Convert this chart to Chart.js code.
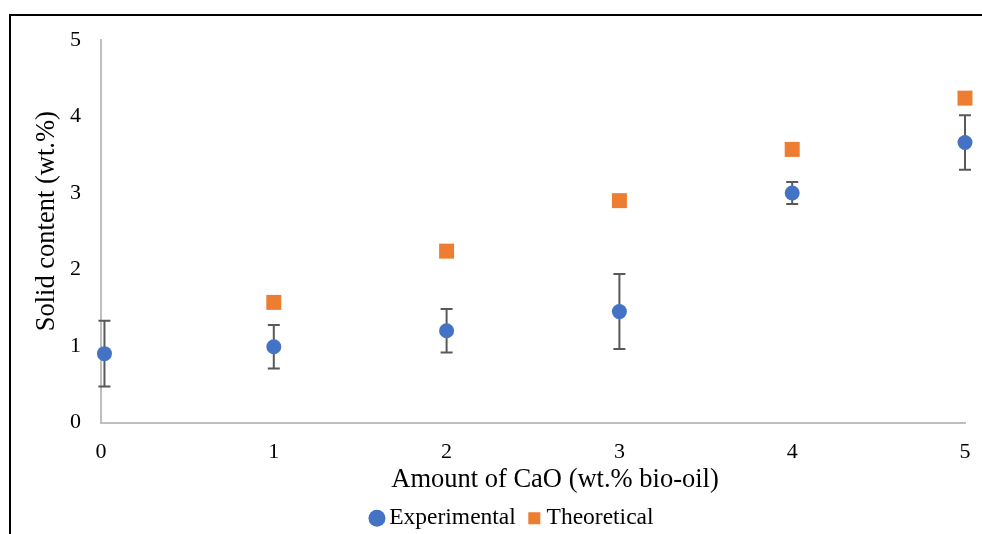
<!DOCTYPE html>
<html>
<head>
<meta charset="utf-8">
<script src="https://cdn.jsdelivr.net/npm/chart.js@4.4.0/dist/chart.umd.min.js"></script>
<style>
  body { margin: 0; background: #fff; }
  #wrap { position: relative; width: 982px; height: 534px; }
  #frame { position: absolute; left: 9px; top: 14px; width: 1000px; height: 600px;
           border-left: 2px solid #000; border-top: 2px solid #000; pointer-events: none; }
</style>
</head>
<body>
<div id="wrap">
  <canvas id="myChart" width="982" height="534"></canvas>
  <div id="frame"></div>
</div>
<script>
// datos
let xExp = [0.02, 1, 2, 3, 4, 5];
let experimental = [0.90, 0.99, 1.20, 1.45, 3.00, 3.66];
let errExp = [0.43, 0.285, 0.285, 0.49, 0.145, 0.355];
let xTeo = [1, 2, 3, 4, 5];
let theoretical = [1.57, 2.24, 2.90, 3.57, 4.24];
let xTicks = [0, 1, 2, 3, 4, 5];
let yTicks = [0, 1, 2, 3, 4, 5];
let xTitle = 'Amount of CaO (wt.% bio-oil)';
let yTitle = 'Solid content (wt.%)';

const fontFam = "'Liberation Serif', 'Times New Roman', serif";

// barras de error dibujadas con las escalas del grafico
const errorBars = {
  id: 'errorBars',
  beforeDatasetsDraw(chart) {
    const ctx = chart.ctx;
    const xs = chart.scales.x, ys = chart.scales.y;
    ctx.save();
    ctx.strokeStyle = '#595959';
    ctx.lineWidth = 2;
    experimental.forEach((v, i) => {
      let px = xs.getPixelForValue(xExp[i]);
      let top = ys.getPixelForValue(v + errExp[i]);
      let bot = ys.getPixelForValue(v - errExp[i]);
      ctx.beginPath();
      ctx.moveTo(px, top); ctx.lineTo(px, bot);
      ctx.moveTo(px - 6, top); ctx.lineTo(px + 6, top);
      ctx.moveTo(px - 6, bot); ctx.lineTo(px + 6, bot);
      ctx.stroke();
    });
    ctx.restore();
  }
};

// titulos de los ejes, colocados como en el original (un poco descentrados)
const axisTitles = {
  id: 'axisTitles',
  afterDraw(chart) {
    const ctx = chart.ctx;
    const a = chart.chartArea;
    ctx.save();
    ctx.fillStyle = '#000';
    ctx.font = '26.5px ' + fontFam;
    ctx.textAlign = 'center';
    ctx.textBaseline = 'middle';
    ctx.fillText(xTitle, (a.left + a.right) / 2 + 22, a.bottom + 58);
    ctx.translate(a.left - 54, (a.top + a.bottom) / 2 - 10);
    ctx.rotate(-Math.PI / 2);
    ctx.fillText(yTitle, 0, 0);
    ctx.restore();
  }
};

const config = {
  type: 'scatter',
  data: {
    datasets: [{
      label: 'Experimental',
      data: experimental.map((v, i) => ({x: xExp[i], y: v})),
      backgroundColor: '#4472C4',
      borderWidth: 0,
      pointStyle: 'circle',
      pointRadius: 7.5,
      pointHoverRadius: 7.5,
      clip: false
    },
    {
      label: 'Theoretical',
      data: theoretical.map((v, i) => ({x: xTeo[i], y: v})),
      backgroundColor: '#ED7D31',
      borderWidth: 0,
      pointStyle: 'rect',
      pointRadius: 10.6,
      pointHoverRadius: 10.6,
      clip: false
    }]
  },
  options: {
    responsive: false,
    animation: false,
    layout: { padding: { left: 48, top: 40, right: 0, bottom: -6 } },
    plugins: {
      tooltip: { enabled: false },
      legend: {
        position: 'bottom',
        labels: {
          usePointStyle: true,
          boxWidth: 1,
          boxHeight: 12,
          padding: 18,
          color: '#000',
          font: { family: fontFam, size: 23.5 }
        }
      }
    },
    scales: {
      x: {
        type: 'linear',
        min: 0, max: 5,
        afterBuildTicks: (s) => { s.ticks = xTicks.map(v => ({value: v})); },
        afterFit: (s) => { s.height = 66; s.paddingRight = 17; },
        grid: { display: false, drawTicks: false },
        border: { display: true, color: '#BFBFBF', width: 2 },
        ticks: { color: '#000', padding: 17, font: { family: fontFam, size: 22 } },
        title: { display: false }
      },
      y: {
        type: 'linear',
        min: 0, max: 5,
        afterBuildTicks: (s) => { s.ticks = yTicks.map(v => ({value: v})); },
        afterFit: (s) => { s.width = 53; },
        grid: { display: false, drawTicks: false },
        border: { display: true, color: '#BFBFBF', width: 2 },
        ticks: { color: '#000', padding: 20, font: { family: fontFam, size: 22 } },
        title: { display: false }
      }
    }
  },
  plugins: [errorBars, axisTitles]
};

const ctx = document.getElementById('myChart').getContext('2d');
const myChart = new Chart(ctx, config);
</script>
</body>
</html>
